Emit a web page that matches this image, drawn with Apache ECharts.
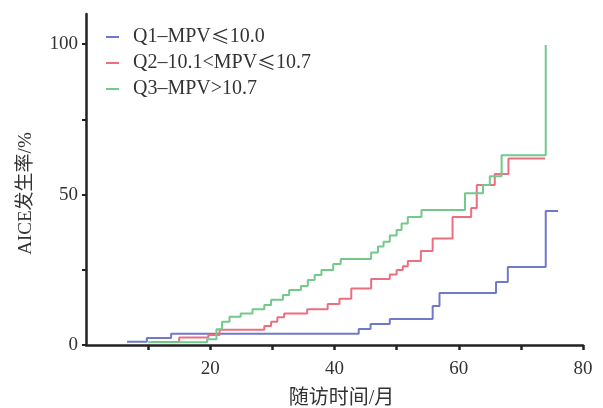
<!DOCTYPE html>
<html>
<head>
<meta charset="utf-8">
<script src="https://cdn.jsdelivr.net/npm/echarts@6/dist/echarts.min.js"></script>
<style>
html,body{margin:0;padding:0;background:#fff;}
#main{width:603px;height:408px;}
</style>
</head>
<body>
<div id="main"></div>
<script>
// cumulative incidence (time in months, rate in %)
var seriesNames = ['Q1–MPV≤10.0', 'Q2–10.1<MPV≤10.7', 'Q3–MPV>10.7'];

var q1Time = [6.6, 9.8, 13.7, 43.9, 45.8, 48.9, 55.8, 56.9, 66.0, 67.9, 74.0, 76.0];
var q1Rate = [1.1, 2.3, 3.7, 5.3, 7.0, 8.6, 13.0, 17.3, 20.9, 25.9, 44.5, 44.5];

var q2Time = [10.5, 15.0, 19.7, 21.5, 28.7, 29.8, 30.8, 31.9, 35.6, 38.9, 40.8, 42.7, 45.9, 48.9, 50.0, 51.0, 51.8, 53.9, 55.8, 59.0, 62.0, 62.9, 65.8, 68.0, 73.9];
var q2Rate = [1.0, 2.5, 3.3, 5.1, 6.3, 7.7, 9.2, 10.5, 11.9, 13.6, 15.4, 18.8, 21.9, 23.4, 24.9, 26.2, 27.9, 31.2, 35.4, 42.5, 45.5, 53.2, 56.8, 62.0, 62.0];

var q3Time = [10.0, 19.5, 21.0, 21.9, 23.1, 24.9, 26.8, 28.7, 29.8, 31.7, 32.7, 34.6, 35.7, 36.8, 37.9, 39.8, 41.0, 45.9, 47.0, 47.9, 48.9, 50.0, 50.8, 51.8, 54.0, 61.0, 63.9, 65.0, 66.9, 74.0];
var q3Rate = [0.9, 1.9, 5.2, 7.7, 9.4, 10.5, 11.9, 13.3, 15.0, 16.6, 18.3, 19.6, 21.6, 23.3, 24.9, 26.9, 28.6, 30.7, 32.7, 34.3, 36.4, 38.2, 40.4, 42.5, 44.9, 50.4, 53.2, 56.1, 63.1, 99.7];

var xTicks = [10, 20, 30, 40, 50, 60, 70, 80];
var xLabels = [20, 40, 60, 80];
var yTicks = [0, 25, 50, 75, 100];
var yLabels = [0, 50, 100];

var colors = ['#7079c9', '#ec6f80', '#72c98a'];

function pairs(ts, vs) {
    var out = [];
    ts.forEach(function (t, i) {
        out.push([t, vs[i]]);
    });
    return out;
}

var serif = "'Liberation Serif','Noto Sans CJK SC',serif";

var myChart = echarts.init(document.getElementById('main'));
var option = {
    animation: false,
    grid: {
        left: 86,
        right: 20,
        top: 14,
        bottom: 63,
        outerBoundsMode: 'none'
    },
    legend: {
        orient: 'vertical',
        left: 101,
        top: 22,
        itemWidth: 13,
        itemHeight: 2,
        itemGap: 6,
        icon: 'rect',
        formatter: function (name) {
            // the ≤ sign is drawn wide in the original, take it from the CJK font
            return name.split('≤').join('{le|≤}');
        },
        textStyle: {
            fontFamily: serif,
            fontSize: 20,
            color: '#333',
            padding: [0, 0, 0, 9],
            rich: {
                le: {
                    fontFamily: 'Noto Sans CJK SC',
                    fontSize: 19,
                    color: '#333'
                }
            }
        },
        data: seriesNames
    },
    xAxis: {
        type: 'value',
        min: 0,
        max: 80,
        name: '随访时间/月',
        nameLocation: 'middle',
        nameGap: 44,
        nameTextStyle: {
            fontFamily: serif,
            fontSize: 20,
            color: '#333',
            padding: [0, 0, 0, 14]
        },
        axisLine: {
            show: true,
            lineStyle: { color: '#222', width: 2.5 }
        },
        axisTick: {
            show: true,
            length: 5,
            customValues: xTicks,
            lineStyle: { color: '#222', width: 2.5 }
        },
        axisLabel: {
            customValues: xLabels,
            margin: 15,
            fontFamily: serif,
            fontSize: 19,
            color: '#333'
        },
        splitLine: { show: false }
    },
    yAxis: {
        type: 'value',
        min: 0,
        max: 110,
        name: 'AICE发生率/%',
        nameLocation: 'middle',
        nameGap: 50,
        nameTextStyle: {
            fontFamily: serif,
            fontSize: 19,
            color: '#333',
            padding: [0, 28, 0, 0]
        },
        axisLine: {
            show: true,
            lineStyle: { color: '#222', width: 2.5 }
        },
        axisTick: {
            show: true,
            length: 4,
            customValues: yTicks,
            lineStyle: { color: '#222', width: 2 }
        },
        axisLabel: {
            customValues: yLabels,
            margin: 8,
            fontFamily: serif,
            fontSize: 19,
            color: '#333'
        },
        splitLine: { show: false }
    },
    series: [
        {
            name: seriesNames[0],
            type: 'line',
            step: 'end',
            symbol: 'none',
            data: pairs(q1Time, q1Rate),
            lineStyle: { color: colors[0], width: 2 },
            itemStyle: { color: colors[0] }
        },
        {
            name: seriesNames[1],
            type: 'line',
            step: 'end',
            symbol: 'none',
            data: pairs(q2Time, q2Rate),
            lineStyle: { color: colors[1], width: 2 },
            itemStyle: { color: colors[1] }
        },
        {
            name: seriesNames[2],
            type: 'line',
            step: 'end',
            symbol: 'none',
            data: pairs(q3Time, q3Rate),
            lineStyle: { color: colors[2], width: 2 },
            itemStyle: { color: colors[2] }
        }
    ]
};
myChart.setOption(option);
</script>
</body>
</html>
